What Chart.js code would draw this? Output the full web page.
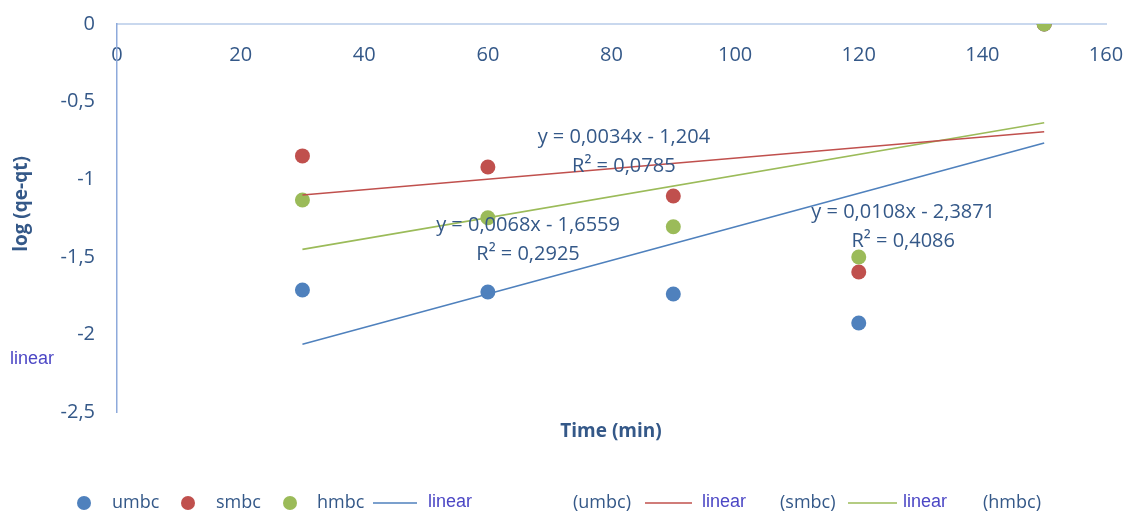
<!DOCTYPE html>
<html>
<head>
<meta charset="utf-8">
<script src="https://cdn.jsdelivr.net/npm/chart.js@4.4.1/dist/chart.umd.min.js"></script>
<style>
  body { margin: 0; background: #fff; }
  #wrap { position: relative; width: 1126px; height: 513px; }
</style>
</head>
<body>
<div id="wrap"><canvas id="kinChart" width="1126" height="513"></canvas></div>
<script>
// time points (min)
var timeMin = [30, 60, 90, 120, 150];
// log(qe-qt) per sample
var umbc = [-1.714, -1.727, -1.740, -1.927, 0];
var smbc = [-0.850, -0.921, -1.108, -1.598, 0];
var hmbc = [-1.134, -1.248, -1.306, -1.501, 0];
// linear trend lines, end points
var trendX = [30, 150];
var umbcTrend = [-2.063, -0.767];
var smbcTrend = [-1.102, -0.694];
var hmbcTrend = [-1.452, -0.636];
// equation labels
var eqText = ['y = 0,0108x - 2,3871', 'y = 0,0034x - 1,204', 'y = 0,0068x - 1,6559'];
var r2Text = ['R² = 0,4086', 'R² = 0,0785', 'R² = 0,2925'];

var blue = '#4f81bd', red = '#c0504d', green = '#9bbb59';
var textCol = '#345888';
var purple = '#4c47c5';
var font = '"Open Sans", sans-serif';

function pts(xs, ys) {
  return xs.map(function (x, i) { return { x: x, y: ys[i] }; });
}

// where the equation labels sit (data coords)
var eqPos = [
  { x: 127.2, y: -1.211 },
  { x: 82.0, y: -0.728 },
  { x: 66.5, y: -1.295 }
];

var extraText = {
  id: 'extraText',
  afterDatasetsDraw: function (chart) {
    var ctx = chart.ctx, sx = chart.scales.x, sy = chart.scales.y;
    ctx.save();
    ctx.fillStyle = textCol;
    ctx.font = '20px ' + font;
    ctx.textAlign = 'center';
    ctx.textBaseline = 'middle';
    for (var i = 0; i < eqPos.length; i++) {
      var px = sx.getPixelForValue(eqPos[i].x), py = sy.getPixelForValue(eqPos[i].y);
      ctx.fillText(eqText[i], px, py);
      ctx.fillText(r2Text[i], px, py + 29);
    }
    ctx.restore();
  },
  afterDraw: function (chart) {
    var ctx = chart.ctx;
    ctx.save();
    ctx.textBaseline = 'middle';
    // axis titles
    ctx.fillStyle = textCol;
    ctx.font = 'bold 19px ' + font;
    ctx.textAlign = 'center';
    ctx.fillText('Time (min)', 611, 432);
    ctx.save();
    ctx.translate(22, 204);
    ctx.rotate(-Math.PI / 2);
    ctx.fillText('log (qe-qt)', 0, 0);
    ctx.restore();

    // stray label left of the axis
    ctx.textAlign = 'left';
    ctx.fillStyle = purple;
    ctx.font = '18px "Liberation Sans", Arial, sans-serif';
    ctx.fillText('linear', 10, 359);

    // legend
    var ly = 503;
    var dots = [[84, blue, 'umbc', 112], [188, red, 'smbc', 216], [290, green, 'hmbc', 317]];
    dots.forEach(function (d) {
      ctx.beginPath();
      ctx.arc(d[0], ly, 7, 0, Math.PI * 2);
      ctx.fillStyle = d[1];
      ctx.fill();
      ctx.fillStyle = textCol;
      ctx.font = '18px ' + font;
      ctx.fillText(d[2], d[3], ly);
    });
    var lines = [[373, 417, blue, 428, '(umbc)', 573], [645, 692, red, 702, '(smbc)', 780], [848, 897, green, 903, '(hmbc)', 983]];
    lines.forEach(function (l) {
      ctx.beginPath();
      ctx.moveTo(l[0], ly);
      ctx.lineTo(l[1], ly);
      ctx.strokeStyle = l[2];
      ctx.lineWidth = 1.5;
      ctx.stroke();
      ctx.fillStyle = purple;
      ctx.font = '18px "Liberation Sans", Arial, sans-serif';
      ctx.fillText('linear', l[3], ly - 1);
      ctx.fillStyle = textCol;
      ctx.font = '18px ' + font;
      ctx.fillText(l[4], l[5], ly);
    });
    ctx.restore();
  }
};

var ctx = document.getElementById('kinChart').getContext('2d');
new Chart(ctx, {
  type: 'scatter',
  data: {
    datasets: [
      { label: 'umbc', data: pts(timeMin, umbc), backgroundColor: blue, borderColor: blue, pointRadius: 7.5, pointBorderWidth: 0, order: 3 },
      { label: 'smbc', data: pts(timeMin, smbc), backgroundColor: red, borderColor: red, pointRadius: 7.5, pointBorderWidth: 0, order: 2 },
      { label: 'hmbc', data: pts(timeMin, hmbc), backgroundColor: green, borderColor: green, pointRadius: 7.5, pointBorderWidth: 0, order: 1 },
      { label: 'linear (umbc)', data: pts(trendX, umbcTrend), showLine: true, borderColor: blue, borderWidth: 1.6, pointRadius: 0, order: 0 },
      { label: 'linear (smbc)', data: pts(trendX, smbcTrend), showLine: true, borderColor: red, borderWidth: 1.6, pointRadius: 0, order: 0 },
      { label: 'linear (hmbc)', data: pts(trendX, hmbcTrend), showLine: true, borderColor: green, borderWidth: 1.6, pointRadius: 0, order: 0 }
    ]
  },
  options: {
    responsive: false,
    animation: false,
    layout: { padding: { top: 24, right: 20, bottom: 101, left: 0 } },
    plugins: { legend: { display: false }, tooltip: { enabled: false } },
    scales: {
      x: {
        type: 'linear',
        position: { y: 0 },
        min: 0, max: 160,
        afterFit: function (scale) { scale.paddingLeft = 0; scale.paddingRight = 0; },
        grid: { display: false, drawTicks: false },
        border: { display: true, color: '#c9d8ee', width: 2 },
        ticks: { stepSize: 20, padding: 19, color: textCol, font: { family: font, size: 20 } }
      },
      y: {
        min: -2.5, max: 0,
        afterFit: function (scale) { scale.width = 117; scale.paddingTop = 0; scale.paddingBottom = 0; },
        grid: { display: false, drawTicks: false },
        border: { display: true, color: '#8eaadb', width: 1.5 },
        ticks: {
          stepSize: 0.5, padding: 22, color: textCol, font: { family: font, size: 20 },
          callback: function (v) { return String(v).replace('.', ','); }
        }
      }
    }
  },
  plugins: [extraText]
});
</script>
</body>
</html>
